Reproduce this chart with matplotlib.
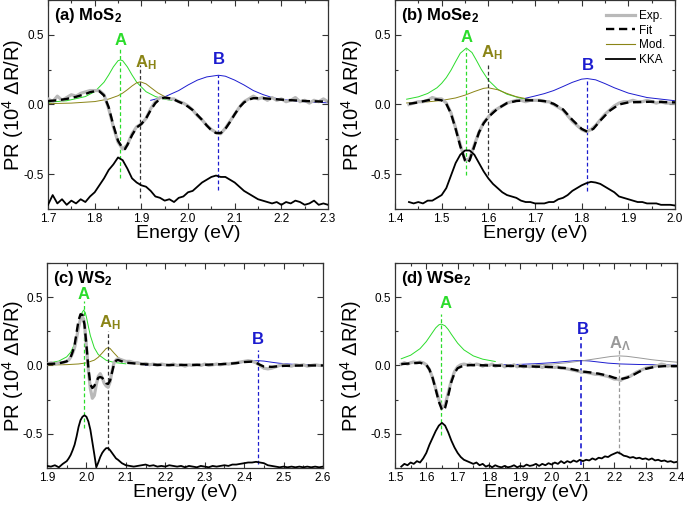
import numpy as np
import matplotlib
matplotlib.use("Agg")
import matplotlib.pyplot as plt
from matplotlib.ticker import MultipleLocator, FormatStrFormatter

plt.rcParams["font.family"] = ["Liberation Sans", "DejaVu Sans"]
plt.rcParams["mathtext.fontset"] = "custom"
plt.rcParams["mathtext.rm"] = "Liberation Sans"
plt.rcParams["mathtext.bf"] = "Liberation Sans:bold"
plt.rcParams["mathtext.default"] = "regular"
plt.rcParams["axes.unicode_minus"] = False

GREEN = "#2bdc2b"
OLIVE = "#8a8416"
BLUE = "#1c1ccf"
GRAY_EXP = "#b9b9b9"
GRAY_AL = "#999999"

# ---------------- (a) MoS2 ----------------
a_x = np.round(np.arange(1.70, 2.301, 0.01), 2)
a_exp = [0.04, 0.02, 0.06, 0.03, 0.05, 0.07, 0.06, 0.08, 0.09, 0.10,
         0.10, 0.10, 0.07, -0.03, -0.16, -0.27, -0.32, -0.29, -0.21, -0.16,
         -0.14, -0.10, -0.03, 0.02, 0.05, 0.05, 0.04, 0.04, 0.02, 0.01,
         -0.01, -0.04, -0.08, -0.11, -0.15, -0.18, -0.20, -0.21, -0.17, -0.12,
         -0.07, -0.02, 0.02, 0.04, 0.06, 0.04, 0.05, 0.03, 0.05, 0.03,
         0.04, 0.02, 0.03, 0.05, 0.02, 0.03, 0.01, 0.03, 0.02, 0.04,
         0.02]
a_kka = [-0.72, -0.65, -0.71, -0.68, -0.72, -0.69, -0.71, -0.68, -0.70, -0.66,
         -0.63, -0.58, -0.53, -0.47, -0.43, -0.38, -0.40, -0.46, -0.53, -0.56,
         -0.58, -0.59, -0.62, -0.66, -0.67, -0.69, -0.68, -0.70, -0.67, -0.66,
         -0.63, -0.62, -0.59, -0.56, -0.54, -0.52, -0.51, -0.52, -0.52, -0.54,
         -0.56, -0.59, -0.62, -0.64, -0.66, -0.68, -0.69, -0.70, -0.71, -0.70,
         -0.72, -0.70, -0.71, -0.69, -0.70, -0.72, -0.71, -0.69, -0.72, -0.71,
         -0.72]
a_fit_x = [1.70, 1.72, 1.74, 1.76, 1.78, 1.79, 1.80, 1.81, 1.82, 1.83,
           1.84, 1.85, 1.86, 1.865, 1.87, 1.88, 1.89, 1.90, 1.91, 1.92,
           1.93, 1.94, 1.95, 1.96, 1.97, 1.98, 1.99, 2.00, 2.01, 2.02,
           2.03, 2.04, 2.05, 2.06, 2.07, 2.08, 2.09, 2.10, 2.11, 2.12,
           2.13, 2.14, 2.16, 2.18, 2.20, 2.25, 2.30]
a_fit = [0.025, 0.03, 0.04, 0.055, 0.075, 0.088, 0.095, 0.095, 0.065, -0.02,
         -0.15, -0.26, -0.315, -0.32, -0.29, -0.22, -0.165, -0.14, -0.10, -0.04,
         0.01, 0.04, 0.05, 0.045, 0.035, 0.02, 0.005, -0.015, -0.04, -0.075,
         -0.11, -0.15, -0.185, -0.205, -0.205, -0.175, -0.125, -0.07, -0.02, 0.015,
         0.035, 0.045, 0.045, 0.04, 0.035, 0.025, 0.02]
a_modA_x = [1.70, 1.74, 1.78, 1.80, 1.82, 1.83, 1.84, 1.85, 1.855, 1.86,
            1.87, 1.88, 1.89, 1.91, 1.93, 1.95, 1.965]
a_modA = [0.0155, 0.027, 0.057, 0.092, 0.16, 0.212, 0.27, 0.314, 0.32, 0.314,
          0.27, 0.212, 0.16, 0.092, 0.057, 0.038, 0.029]
a_modH_x = [1.70, 1.75, 1.80, 1.83, 1.85, 1.86, 1.87, 1.88, 1.89, 1.898,
            1.91, 1.92, 1.935, 1.95, 1.965]
a_modH = [0.006, 0.010, 0.021, 0.039, 0.063, 0.082, 0.106, 0.133, 0.156, 0.163,
          0.148, 0.122, 0.084, 0.057, 0.04]
a_modB_x = [1.92, 1.95, 1.98, 2.00, 2.02, 2.04, 2.065, 2.08, 2.10, 2.12,
            2.14, 2.16, 2.18, 2.20, 2.25, 2.30]
a_modB = [0.03, 0.055, 0.10, 0.14, 0.175, 0.198, 0.21, 0.203, 0.175, 0.14,
          0.10, 0.072, 0.05, 0.036, 0.02, 0.012]

# ---------------- (b) MoSe2 ----------------
b_x = np.round(np.arange(1.43, 2.001, 0.01), 2)
b_exp = [0.00, 0.01, 0.02, 0.02, 0.03, 0.05, 0.04, 0.04, 0.01, -0.06,
         -0.17, -0.29, -0.40, -0.39, -0.29, -0.20, -0.13, -0.09, -0.05, -0.03,
         -0.01, 0.01, 0.02, 0.03, 0.03, 0.02, 0.03, 0.03, 0.03, 0.02,
         0.02, 0.00, -0.02, -0.04, -0.08, -0.12, -0.15, -0.18, -0.195, -0.18,
         -0.15, -0.11, -0.07, -0.04, -0.01, 0.01, 0.02, 0.02, 0.03, 0.02,
         0.02, 0.03, 0.02, 0.01, 0.02, 0.01, 0.01, 0.01]
b_kka = [-0.70, -0.71, -0.70, -0.71, -0.69, -0.69, -0.67, -0.65, -0.60, -0.51,
         -0.42, -0.36, -0.33, -0.33, -0.36, -0.42, -0.48, -0.53, -0.57, -0.60,
         -0.63, -0.65, -0.66, -0.67, -0.69, -0.70, -0.70, -0.71, -0.71, -0.71,
         -0.70, -0.70, -0.68, -0.67, -0.65, -0.62, -0.60, -0.58, -0.565, -0.555,
         -0.56, -0.57, -0.59, -0.61, -0.63, -0.66, -0.67, -0.68, -0.69, -0.70,
         -0.70, -0.71, -0.71, -0.71, -0.72, -0.72, -0.72, -0.725]
b_fit_x = [1.43, 1.45, 1.47, 1.48, 1.49, 1.50, 1.51, 1.52, 1.53, 1.54,
           1.55, 1.555, 1.56, 1.57, 1.58, 1.59, 1.60, 1.62, 1.64, 1.66,
           1.68, 1.70, 1.72, 1.74, 1.76, 1.78, 1.80, 1.812, 1.825, 1.84,
           1.86, 1.88, 1.90, 1.95, 2.00]
b_fit = [0.005, 0.015, 0.03, 0.035, 0.035, 0.03, 0.005, -0.065, -0.175, -0.30,
         -0.40, -0.42, -0.40, -0.30, -0.20, -0.135, -0.09, -0.03, 0.01, 0.025,
         0.03, 0.03, 0.025, 0.005, -0.035, -0.11, -0.175, -0.195, -0.175, -0.115,
         -0.045, 0.0, 0.015, 0.02, 0.015]
b_modA_x = [1.425, 1.45, 1.47, 1.49, 1.50, 1.51, 1.52, 1.53, 1.54, 1.553,
            1.565, 1.575, 1.585, 1.60, 1.62, 1.64, 1.67, 1.70]
b_modA = [0.038, 0.055, 0.079, 0.12, 0.152, 0.193, 0.246, 0.308, 0.368, 0.405,
          0.373, 0.314, 0.252, 0.175, 0.11, 0.074, 0.044, 0.029]
b_modH_x = [1.425, 1.47, 1.50, 1.53, 1.55, 1.57, 1.59, 1.60, 1.62, 1.64, 1.66, 1.70]
b_modH = [0.011, 0.019, 0.029, 0.047, 0.067, 0.093, 0.116, 0.12, 0.106, 0.079, 0.056, 0.029]
b_modB_x = [1.68, 1.70, 1.72, 1.74, 1.76, 1.78, 1.80, 1.812, 1.83, 1.85,
            1.87, 1.90, 1.94, 2.00]
b_modB = [0.045, 0.061, 0.078, 0.10, 0.129, 0.159, 0.182, 0.186, 0.177, 0.15,
          0.12, 0.082, 0.05, 0.027]

# ---------------- (c) WS2 ----------------
c_x = np.concatenate([
    [1.90, 1.91, 1.92, 1.93, 1.94, 1.95, 1.955, 1.96, 1.965, 1.97,
     1.975, 1.98, 1.985, 1.99, 1.995, 2.00, 2.005, 2.01, 2.015, 2.02,
     2.025, 2.03, 2.035, 2.04, 2.045, 2.05, 2.055, 2.06, 2.065, 2.07,
     2.075, 2.08],
    np.round(np.arange(2.09, 2.601, 0.01), 2)])
c_exp = [0.01, 0.02, 0.01, 0.02, 0.02, 0.03, 0.04, 0.06, 0.09, 0.13,
         0.20, 0.28, 0.34, 0.36, 0.31, 0.14, -0.04, -0.17, -0.24, -0.22,
         -0.14, -0.08, -0.06, -0.09, -0.13, -0.15, -0.16, -0.12, -0.04, 0.02,
         0.04, 0.05,
         0.04, 0.03, 0.03, 0.02, 0.02, 0.01, 0.015, 0.005, 0.01, 0.0,
         0.01, 0.005, 0.0, 0.01, 0.0, 0.005, -0.005, 0.005, 0.0, 0.005,
         0.0, 0.01, 0.0, 0.005, 0.01, 0.005, 0.015, 0.01, 0.015, 0.02,
         0.025, 0.03, 0.035, 0.03, 0.02, 0.0, -0.02, -0.025, -0.02, -0.01,
         0.0, 0.005, 0.0, -0.005, 0.005, 0.0, 0.005, -0.005, 0.0, 0.005,
         0.0, 0.0]
c_kka = [-0.735, -0.74, -0.73, -0.745, -0.72, -0.70, -0.68, -0.655, -0.62, -0.58,
         -0.52, -0.45, -0.40, -0.375, -0.365, -0.375, -0.41, -0.47, -0.56, -0.65,
         -0.745, -0.71, -0.67, -0.64, -0.62, -0.605, -0.605, -0.62, -0.64, -0.66,
         -0.68, -0.69,
         -0.715, -0.73, -0.735, -0.74, -0.735, -0.73, -0.725, -0.735, -0.73, -0.74,
         -0.735, -0.74, -0.73, -0.735, -0.74, -0.735, -0.745, -0.735, -0.74, -0.745,
         -0.735, -0.74, -0.745, -0.735, -0.74, -0.735, -0.73, -0.735, -0.725, -0.725,
         -0.72, -0.715, -0.71, -0.71, -0.705, -0.71, -0.715, -0.73, -0.735, -0.74,
         -0.745, -0.74, -0.745, -0.74, -0.745, -0.74, -0.745, -0.74, -0.745, -0.74,
         -0.745, -0.74]
c_fit_x = [1.90, 1.93, 1.95, 1.96, 1.965, 1.97, 1.975, 1.98, 1.985, 1.99,
           1.995, 2.00, 2.005, 2.01, 2.015, 2.02, 2.025, 2.03, 2.035, 2.04,
           2.045, 2.05, 2.055, 2.06, 2.065, 2.07, 2.075, 2.08, 2.09, 2.10,
           2.15, 2.20, 2.30, 2.35, 2.38, 2.40, 2.42, 2.43, 2.44, 2.45,
           2.47, 2.50, 2.55, 2.60]
c_fit = [0.01, 0.015, 0.03, 0.06, 0.10, 0.15, 0.24, 0.33, 0.375, 0.37,
         0.30, 0.15, -0.02, -0.14, -0.165, -0.15, -0.12, -0.09, -0.085, -0.09,
         -0.11, -0.13, -0.135, -0.11, -0.05, 0.01, 0.035, 0.04, 0.03, 0.02,
         0.008, 0.003, 0.005, 0.01, 0.017, 0.025, 0.028, 0.02, 0.005, -0.008,
         -0.01, -0.003, 0.0, 0.0]
c_modA_x = [1.90, 1.93, 1.95, 1.96, 1.97, 1.975, 1.98, 1.985, 1.989, 1.993,
            1.997, 2.00, 2.005, 2.01, 2.02, 2.03, 2.05, 2.07, 2.10]
c_modA = [0.015, 0.032, 0.063, 0.096, 0.158, 0.207, 0.27, 0.34, 0.387, 0.405,
          0.387, 0.354, 0.284, 0.218, 0.129, 0.08, 0.038, 0.022, 0.012]
c_modH_x = [1.90, 1.95, 1.98, 2.00, 2.02, 2.03, 2.04, 2.05, 2.055, 2.06,
            2.07, 2.08, 2.09, 2.11, 2.13, 2.16, 2.20]
c_modH = [0.003, 0.006, 0.011, 0.019, 0.039, 0.06, 0.091, 0.124, 0.13, 0.124,
          0.091, 0.06, 0.039, 0.019, 0.011, 0.006, 0.003]
c_modB_x = [2.15, 2.25, 2.30, 2.35, 2.38, 2.40, 2.42, 2.435, 2.45, 2.47,
            2.49, 2.52, 2.56, 2.60]
c_modB = [0.001, 0.0024, 0.004, 0.009, 0.016, 0.0235, 0.032, 0.035, 0.032, 0.0235,
          0.016, 0.009, 0.0048, 0.0029]

# ---------------- (d) WSe2 ----------------
d_x = np.round(np.arange(1.52, 2.401, 0.01), 2)
d_exp = [0.01, 0.02, 0.01, 0.02, 0.025, 0.02, 0.025, 0.02, 0.005, -0.03,
         -0.09, -0.17, -0.25, -0.31, -0.29, -0.20, -0.11, -0.045, -0.01, 0.005,
         0.01, 0.005, 0.01, 0.0, 0.01, 0.005, -0.005, 0.005, 0.0, 0.01,
         -0.005, 0.0, 0.005, -0.01, 0.0, -0.005, 0.005, -0.01, 0.0, -0.01,
         -0.005, -0.01, 0.0, -0.01, -0.005, -0.015, -0.005, -0.01, -0.01, -0.015,
         -0.01, -0.02, -0.02, -0.025, -0.03, -0.035, -0.04, -0.045, -0.05, -0.05,
         -0.055, -0.06, -0.065, -0.065, -0.07, -0.075, -0.08, -0.09, -0.10, -0.10,
         -0.11, -0.095, -0.085, -0.08, -0.065, -0.05, -0.04, -0.03, -0.02, -0.015,
         -0.01, -0.005, 0.0, 0.01, 0.005, -0.005, 0.0, -0.005, 0.0]
d_kka = [-0.74, -0.72, -0.73, -0.71, -0.72, -0.70, -0.71, -0.68, -0.64, -0.58,
         -0.53, -0.48, -0.44, -0.42, -0.44, -0.49, -0.55, -0.60, -0.64, -0.67,
         -0.69, -0.70, -0.71, -0.72, -0.71, -0.73, -0.72, -0.74, -0.73, -0.745,
         -0.73, -0.74, -0.745, -0.735, -0.745, -0.74, -0.73, -0.745, -0.735, -0.74,
         -0.725, -0.735, -0.73, -0.72, -0.735, -0.72, -0.73, -0.715, -0.725, -0.71,
         -0.72, -0.70, -0.715, -0.70, -0.71, -0.695, -0.705, -0.69, -0.70, -0.69,
         -0.695, -0.68, -0.69, -0.675, -0.68, -0.665, -0.67, -0.655, -0.645, -0.635,
         -0.645, -0.66, -0.665, -0.675, -0.67, -0.68, -0.675, -0.685, -0.68, -0.69,
         -0.68, -0.695, -0.69, -0.70, -0.695, -0.705, -0.70, -0.71, -0.705]
d_fit_x = [1.52, 1.55, 1.58, 1.60, 1.61, 1.62, 1.63, 1.64, 1.65, 1.655,
           1.66, 1.67, 1.68, 1.69, 1.70, 1.72, 1.75, 1.80, 1.90, 2.00,
           2.05, 2.10, 2.12, 2.15, 2.18, 2.20, 2.22, 2.24, 2.26, 2.28,
           2.30, 2.33, 2.36, 2.40]
d_fit = [0.01, 0.015, 0.02, 0.005, -0.03, -0.09, -0.175, -0.265, -0.325, -0.33,
         -0.31, -0.22, -0.12, -0.055, -0.02, 0.0, 0.003, 0.0, -0.005, -0.012,
         -0.02, -0.045, -0.05, -0.06, -0.075, -0.09, -0.10, -0.09, -0.07, -0.045,
         -0.025, -0.01, -0.005, -0.005]
d_modA_x = [1.52, 1.55, 1.58, 1.60, 1.62, 1.63, 1.64, 1.648, 1.66, 1.67,
            1.68, 1.70, 1.72, 1.75, 1.78, 1.82]
d_modA = [0.049, 0.075, 0.123, 0.175, 0.242, 0.275, 0.297, 0.303, 0.29, 0.263,
          0.228, 0.163, 0.114, 0.07, 0.046, 0.029]
d_modB_x = [1.80, 1.90, 1.95, 2.00, 2.04, 2.07, 2.095, 2.12, 2.15, 2.18,
            2.22, 2.28, 2.34, 2.40]
d_modB = [0.003, 0.008, 0.013, 0.02, 0.028, 0.034, 0.036, 0.033, 0.025, 0.017,
          0.011, 0.007, 0.005, 0.004]
d_modL_x = [1.95, 2.00, 2.05, 2.10, 2.15, 2.19, 2.215, 2.24, 2.28, 2.32, 2.36, 2.40]
d_modL = [0.005, 0.01, 0.02, 0.035, 0.052, 0.066, 0.07, 0.067, 0.055, 0.042, 0.032, 0.024]

# transition markers: (energy, top, bottom, colour, width) and labels (text, energy, y, colour)
a_marks = [(1.855, 0.40, -0.53, GREEN, 0.9), (1.898, 0.28, -0.67, "#333333", 0.9),
           (2.065, 0.21, -0.615, BLUE, 0.9)]
b_marks = [(1.553, 0.40, -0.505, GREEN, 0.9), (1.600, 0.28, -0.505, "#333333", 0.9),
           (1.812, 0.186, -0.62, BLUE, 0.9)]
c_marks = [(1.993, 0.47, -0.46, GREEN, 0.9), (2.055, 0.255, -0.62, "#333333", 0.9),
           (2.435, 0.11, -0.72, BLUE, 0.9)]
d_marks = [(1.648, 0.38, -0.51, GREEN, 0.9), (2.095, 0.21, -0.73, BLUE, 1.2),
           (2.215, 0.11, -0.65, GRAY_AL, 0.9)]

a_labels = [("A", 1.855, 0.46, GREEN), ("A$_H$", 1.909, 0.30, OLIVE), ("B", 2.066, 0.32, BLUE)]
b_labels = [("A", 1.553, 0.48, GREEN), ("A$_H$", 1.607, 0.37, OLIVE), ("B", 1.814, 0.28, BLUE)]
c_labels = [("A", 1.993, 0.52, GREEN), ("A$_H$", 2.060, 0.31, OLIVE), ("B", 2.436, 0.19, BLUE)]
d_labels = [("A", 1.660, 0.45, GREEN), ("B", 2.100, 0.26, BLUE), ("A$_Λ$", 2.219, 0.16, GRAY_AL)]

panels = [
    dict(pos=[0.0701, 0.5894, 0.4088, 0.4106], xlim=(1.7, 2.3), title="(a) MoS$_2$", ylx=-0.079,
         x=a_x, exp=a_exp, kka=a_kka, fx=a_fit_x, fit=a_fit,
         mods=[(a_modA_x, a_modA, GREEN), (a_modH_x, a_modH, OLIVE), (a_modB_x, a_modB, BLUE)],
         marks=a_marks, labels=a_labels),
    dict(pos=[0.5766, 0.5894, 0.4088, 0.4106], xlim=(1.4, 2.0), title="(b) MoSe$_2$", ylx=-0.107,
         x=b_x, exp=b_exp, kka=b_kka, fx=b_fit_x, fit=b_fit,
         mods=[(b_modA_x, b_modA, GREEN), (b_modH_x, b_modH, OLIVE), (b_modB_x, b_modB, BLUE)],
         marks=b_marks, labels=b_labels),
    dict(pos=[0.0686, 0.0806, 0.4030, 0.4028], xlim=(1.9, 2.6), title="(c) WS$_2$", ylx=-0.076,
         x=c_x, exp=c_exp, kka=c_kka, fx=c_fit_x, fit=c_fit,
         mods=[(c_modA_x, c_modA, GREEN), (c_modH_x, c_modH, OLIVE), (c_modB_x, c_modB, BLUE)],
         marks=c_marks, labels=c_labels),
    dict(pos=[0.5766, 0.0806, 0.4117, 0.4028], xlim=(1.5, 2.4), title="(d) WSe$_2$", ylx=-0.110,
         x=d_x, exp=d_exp, kka=d_kka, fx=d_fit_x, fit=d_fit,
         mods=[(d_modA_x, d_modA, GREEN), (d_modB_x, d_modB, BLUE), (d_modL_x, d_modL, GRAY_AL)],
         marks=d_marks, labels=d_labels),
]

fig = plt.figure(figsize=(6.85, 5.09), dpi=100)

for i, p in enumerate(panels):
    ax = fig.add_axes(p["pos"])
    for mx, my, col in p["mods"]:
        ax.plot(mx, my, color=col, lw=0.7, zorder=2)
    for e, top, bot, col, w in p["marks"]:
        ax.plot([e, e], [bot, top], color=col, lw=w, ls=(0, (3, 2)), zorder=2)
    ax.plot(p["x"], p["exp"], color=GRAY_EXP, lw=2.3, solid_joinstyle="round",
            label="Exp.", zorder=3)
    ax.plot(p["fx"], p["fit"], color="black", lw=1.7, dashes=(3.5, 2.0),
            label="Fit", zorder=4)
    if i == 1:
        ax.plot([], [], color=OLIVE, lw=0.8, label="Mod.")
    ax.plot(p["x"], p["kka"], color="black", lw=1.3, label="KKA", zorder=4)
    for txt, e, y, col in p["labels"]:
        ax.text(e, y, txt, color=col, fontsize=12, fontweight="bold",
                ha="center", va="center", zorder=5)
    ax.text(0.02, 0.925, p["title"], transform=ax.transAxes, fontsize=12,
            fontweight="bold", ha="left", va="center")

    ax.set_xlim(*p["xlim"])
    ax.set_ylim(-0.75, 0.75)
    ax.xaxis.set_major_locator(MultipleLocator(0.1))
    ax.xaxis.set_minor_locator(MultipleLocator(0.05))
    ax.yaxis.set_major_locator(MultipleLocator(0.5))
    ax.yaxis.set_minor_locator(MultipleLocator(0.25))
    ax.xaxis.set_major_formatter(FormatStrFormatter("%.1f"))
    ax.yaxis.set_major_formatter(FormatStrFormatter("%.1f"))
    ax.tick_params(which="both", direction="in", top=True, right=True,
                   labelsize=8.5, width=0.8, color="#333333")
    ax.tick_params(which="major", length=4, pad=3)
    ax.tick_params(which="minor", length=2)
    for s in ax.spines.values():
        s.set_color("#333333")
        s.set_linewidth(0.9)
    ax.set_xlabel("Energy (eV)", fontsize=14, labelpad=0)
    ax.set_ylabel("PR (10$^4$ ΔR/R)", fontsize=14.5)
    ax.yaxis.set_label_coords(p["ylx"], 0.5)

    if i == 1:
        ax.legend(loc="upper right", frameon=False, fontsize=8.5, handlelength=2.4,
                  labelspacing=0.22, handletextpad=0.35, borderpad=0.4,
                  borderaxespad=0.45)

fig.savefig("out.png", dpi=100)
